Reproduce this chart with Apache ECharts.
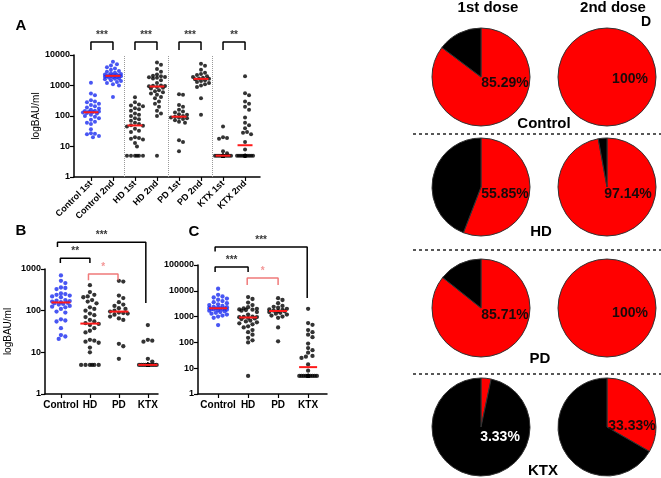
<!DOCTYPE html>
<html><head><meta charset="utf-8">
<script src="https://cdn.jsdelivr.net/npm/echarts@6/dist/echarts.min.js"></script>
<style>html,body{margin:0;padding:0;background:#fff}#c{width:661px;height:478px}</style>
</head><body><div id="c"></div>
<script>
// ---------- data ----------
const catsA = ['Control 1st','Control 2nd','HD 1st','HD 2nd','PD 1st','PD 2nd','KTX 1st','KTX 2nd'];
const catsBC = ['Control','HD','PD','KTX'];
const yTicksA = [1,10,100,1000,10000];
const yTicksB = [1,10,100,1000];
const yTicksC = [1,10,100,1000,10000,100000];

const ctrl1A = [1230,550,480,330,300,280,250,230,210,190,175,160,150,145,140,140,135,130,125,120,110,100,95,85,75,65,55,37,27,26,25,22,20,60];
const ctrl2A = [6000,5000,4500,4000,3600,3300,3000,2800,2600,2500,2400,2300,2250,2200,2150,2100,2100,2050,2000,2000,1950,1900,1850,1800,1700,1650,1600,1500,1400,1300,1200,1100,1000,420];
const ctrl1B = [700,520,460,360,350,330,260,250,240,230,220,210,180,175,170,165,160,155,150,145,140,130,125,120,110,95,90,62,58,55,38,26,24,21];
const ctrl2C = [12000,7000,6000,5500,5000,4500,4000,3600,3300,3000,2800,2600,2400,2300,2200,2150,2100,2100,2050,2000,1950,1900,1850,1800,1700,1600,1500,1400,1300,1200,1100,1000,900,470];
const hd1 = [410,280,240,220,210,180,165,150,120,110,100,85,78,70,60,55,50,48,45,38,33,30,20,19,18,17,13,10,5,5,5,5,5,5];
const hd2 = [5700,4800,3500,2800,2300,2100,2000,1900,1850,1800,1700,1500,1200,1000,980,960,950,900,850,800,700,650,600,550,500,420,380,300,250,200,150,120,100,5];
const pd1 = [520,500,230,200,160,140,130,115,110,100,95,90,88,85,80,72,65,60,16,14,7];
const pd2 = [5200,4400,3300,2600,2400,2200,2000,1900,1800,1700,1650,1600,1500,1400,1300,1200,1100,1000,900,380,110];
const ktx1 = [45,20,19,18,7,6,5,5,5,5,5,5,5,5,5,5,5,5,5,5,5,5,5,5,5,5,5,5,5,5];
const ktx2 = [2000,560,480,300,250,200,160,90,60,50,40,30,28,25,14,8,5,5,5,5,5,5,5,5,5,5,5,5,5,5];

const pieGroups = ['Control','HD','PD','KTX'];
const pieDose1 = [85.29, 55.85, 85.71, 3.33];
const pieDose2 = [100, 97.14, 100, 33.33];

// ---------- helpers ----------
const BLUE = '#1a2cf0', BLK = '#000', RED = '#ff1a1a', PINK = '#f07a7a';
const FONT = 'Liberation Sans, Arial, sans-serif';

function median(a){const s=[...a].sort((x,y)=>x-y);const n=s.length;return n%2?s[(n-1)/2]:(s[n/2-1]+s[n/2])/2;}

function beeswarm(values, center, pxPerDec, pxPerUnit, dot, maxPx){
  const pts = values.map(v=>({v, y:Math.log10(v)*pxPerDec})).sort((a,b)=>b.y-a.y);
  const placed=[]; const out=[];
  const step = dot*0.5;
  for(const p of pts){
    let chosen=null,best=null,bestD=-1;
    for(let k=0;k<200;k++){
      const off = k===0?0:(k%2?1:-1)*Math.ceil(k/2)*step;
      if(Math.abs(off)>maxPx) break;
      let d=Infinity;
      for(const q of placed){const dd=Math.hypot(off-q.x,p.y-q.y); if(dd<d) d=dd;}
      if(d>=dot){chosen=off;break;}
      if(d>bestD){bestD=d;best=off;}
    }
    if(chosen===null) chosen=best;
    placed.push({x:chosen,y:p.y});
    out.push([center+chosen/pxPerUnit, p.v]);
  }
  return out;
}

const panels = [
  {grid:{left:74,top:55,width:186,height:122}, xmin:-0.77, xmax:7.68, ymax:10000, pxDec:30.5, pxUnit:22, dot:4, maxPx:8.5, sym:4, half:0.34,
   groups:[[ctrl1A,BLUE],[ctrl2A,BLUE],[hd1,BLK],[hd2,BLK],[pd1,BLK],[pd2,BLK],[ktx1,BLK],[ktx2,BLK]], cats:catsA, ticks:yTicksA},
  {grid:{left:45,top:269,width:113,height:125}, xmin:-0.55, xmax:3.35, ymax:1000, pxDec:41.7, pxUnit:29, dot:4.4, maxPx:10.5, sym:4.3, half:0.33,
   groups:[[ctrl1B,BLUE],[hd1,BLK],[pd1,BLK],[ktx1,BLK]], cats:catsBC, ticks:yTicksB},
  {grid:{left:198,top:265,width:129,height:129}, xmin:-0.67, xmax:3.63, ymax:100000, pxDec:25.8, pxUnit:30, dot:4.4, maxPx:10.5, sym:4.3, half:0.3,
   groups:[[ctrl2C,BLUE],[hd2,BLK],[pd2,BLK],[ktx2,BLK]], cats:catsBC, ticks:yTicksC}
];

const grids=[], xAxes=[], yAxes=[], series=[];
panels.forEach((P,gi)=>{
  grids.push(P.grid);
  const idx = P.cats.map((_,i)=>i);
  xAxes.push({gridIndex:gi,type:'value',min:P.xmin,max:P.xmax,splitLine:{show:false},
    axisLine:{onZero:false,lineStyle:{color:'#000',width:1.5}},
    axisTick:{customValues:idx,length:4,lineStyle:{color:'#000',width:1.2}},
    axisLabel:{customValues:idx,formatter:v=>P.cats[Math.round(v)],rotate:gi===0?45:0,fontSize:gi===0?9:10,fontWeight:'bold',color:'#000',fontFamily:FONT,margin:gi===0?5:6}});
  yAxes.push({gridIndex:gi,type:'log',logBase:10,min:1,max:P.ymax,splitLine:{show:false},
    axisLine:{show:true,onZero:false,lineStyle:{color:'#000',width:1.5}},
    axisTick:{show:true,customValues:P.ticks,length:4,lineStyle:{color:'#000',width:1.2}},
    minorTick:{show:false},
    axisLabel:{customValues:P.ticks,formatter:v=>String(Math.round(v)),fontSize:9,fontWeight:'bold',color:'#000',fontFamily:FONT,margin:4},
    name: gi===2?'':'logBAU/ml', nameLocation:'middle', nameGap: gi===0?33:32,
    nameTextStyle:{fontSize:10,color:'#000',fontFamily:FONT}});
  P.groups.forEach(([vals,col],i)=>{
    series.push({type:'scatter',xAxisIndex:gi,yAxisIndex:gi,symbolSize:P.sym,itemStyle:{color:col},z:3,
      data:beeswarm(vals,i,P.pxDec,P.pxUnit,P.dot,P.maxPx),silent:true});
  });
  P.groups.forEach(([vals],i)=>{
    const m=median(vals);
    series.push({type:'line',xAxisIndex:gi,yAxisIndex:gi,symbol:'none',z:4,silent:true,
      lineStyle:{color:RED,width:2},data:[[i-P.half,m],[i+P.half,m]]});
  });
});

// separators in panel A
series.push({type:'scatter',xAxisIndex:0,yAxisIndex:0,data:[],
  markLine:{silent:true,symbol:'none',label:{show:false},lineStyle:{type:'dotted',color:'#999',width:1},
    data:[{xAxis:1.5},{xAxis:3.5},{xAxis:5.5}]}});

// significance brackets: [panel, x0, x1, yTop, yDownLeft, yDownRight, text, color]
const brackets = [
  [0,0,1,26600,14600,14600,'***',BLK],
  [0,2,3,26600,14600,14600,'***',BLK],
  [0,4,5,26600,14600,14600,'***',BLK],
  [0,6,7,26600,14600,14600,'**',BLK],
  [1,-0.12,2.93,4400,3350,152,'***',BLK],
  [1,-0.02,1,1820,1390,1390,'**',BLK],
  [1,0.95,1.97,755,540,540,'*',PINK],
  [2,-0.1,2.97,500000,330000,5300,'***',BLK],
  [2,-0.1,1,84000,53000,53000,'***',BLK],
  [2,0.97,2,31000,16600,16600,'*',PINK]
];
brackets.forEach(([gi,x0,x1,yt,yl,yr,txt,col])=>{
  series.push({type:'line',xAxisIndex:gi,yAxisIndex:gi,symbol:'none',clip:false,silent:true,z:5,
    lineStyle:{color:col,width:1.5},data:[[x0,yl],[x0,yt],[x1,yt],[x1,yr]]});
  series.push({type:'scatter',xAxisIndex:gi,yAxisIndex:gi,clip:false,silent:true,symbolSize:1,z:5,
    itemStyle:{color:'transparent'},
    label:{show:true,position:'top',distance:1,formatter:txt,color:col,fontSize:10,fontWeight:'bold',fontFamily:FONT},
    data:[[(x0+x1)/2,yt]]});
});

// pies
const pieCx = [481,607];
const pieCy = [77,187,308,427];
const offs1 = [[24,6],[24,7],[24,7],[19,10]];
const offs2 = [[23,2],[21,7],[23,5],[25,-1]];
[pieDose1,pieDose2].forEach((arr,col)=>{
  arr.forEach((pct,row)=>{
    const off = col===0?offs1[row]:offs2[row];
    const data=[{value:pct,itemStyle:{color:'#ff0000'},
      label:{show:true,position:'center',formatter:pct+'%',offset:off,fontSize:14,fontWeight:'bold',fontFamily:FONT,
        color: pct<10?'#fff':'#1a0a0a'}}];
    const neg = +(100-pct).toFixed(2);
    if(neg>0) data.push({value:neg,itemStyle:{color:'#000'},label:{show:false}});
    series.push({type:'pie',center:[pieCx[col],pieCy[row]],radius:[0,49],startAngle:90,clockwise:true,
      silent:true,animation:false,labelLine:{show:false},
      itemStyle:{borderColor:'#333',borderWidth:1},data});
  });
});

const txt=(x,y,t,size,align)=>({type:'text',x,y,style:{text:t,font:`bold ${size}px ${FONT}`,fill:'#000',textAlign:align||'center',textVerticalAlign:'middle'}});
const dash=(y)=>({type:'line',shape:{x1:413,y1:y,x2:661,y2:y},style:{stroke:'#222',lineWidth:1.5,lineDash:[3,3]}});
const graphic=[
  txt(21,26,'A',15),txt(21,231,'B',15),txt(194,232,'C',15),txt(646,22,'D',14),
  txt(488,8,'1st dose',15),txt(613,8,'2nd dose',15),
  txt(544,124,'Control',15),txt(541,232,'HD',15),txt(540,359,'PD',15),txt(543,471,'KTX',15),
  dash(134),dash(250),dash(374)
];

const chart = echarts.init(document.getElementById('c'),null,{renderer:'canvas'});
chart.setOption({animation:false,backgroundColor:'#fff',grid:grids,xAxis:xAxes,yAxis:yAxes,series,graphic});
</script></body></html>
